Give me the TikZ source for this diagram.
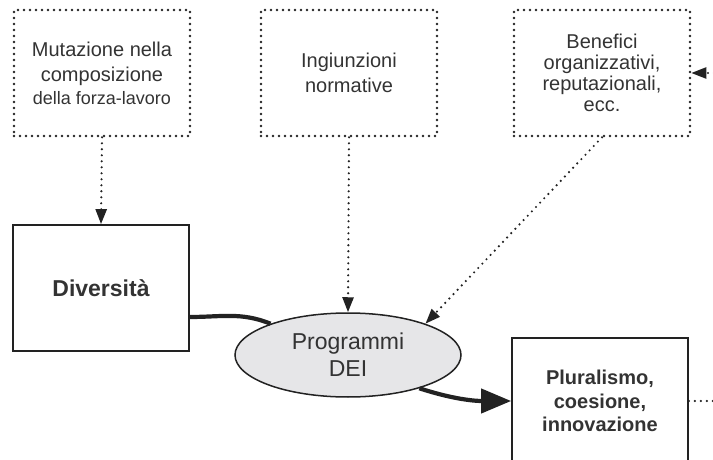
\documentclass[tikz,border=0pt]{standalone}
\usepackage{fontspec}
\setmainfont{Liberation Sans}
\usetikzlibrary{arrows.meta,shapes.geometric}
\definecolor{ink}{HTML}{222222}
\definecolor{txt}{HTML}{333333}
\definecolor{dei}{HTML}{E6E6E8}
\newcommand{\fs}[2]{\fontsize{#1}{#2}\selectfont}
\tikzset{
  dotbox/.style={draw=ink, line width=2.6pt, dash pattern=on 0pt off 6pt, line cap=round,
    minimum width=176pt, minimum height=126pt, inner sep=0pt, align=center, text=txt},
  solidbox/.style={draw=ink, line width=1.7pt, minimum width=176pt, minimum height=126pt,
    inner sep=0pt, align=center, text=txt},
  deinode/.style={ellipse, draw=ink, line width=1.5pt, fill=dei, minimum width=226pt,
    minimum height=84pt, inner sep=0pt, align=center, text=txt},
  dotarrow/.style={draw=ink, line width=2.4pt, dash pattern=on 0pt off 6pt, line cap=round,
    -{Triangle[length=15pt,width=11pt]}},
  dotline/.style={draw=ink, line width=2.4pt, dash pattern=on 0pt off 6pt, line cap=round},
  thick flow/.style={draw=ink, line width=4.2pt},
  thick arrow/.style={draw=ink, line width=4.2pt, -{Triangle[length=30pt,width=24pt]}}
}
\begin{document}
\begin{tikzpicture}[x=1pt,y=-1pt]
\useasboundingbox (0,0) rectangle (713,460);

% top row: driving factors
\node[dotbox, font=\fs{20}{25}] (mut) at (102,73)
  {Mutazione nella\\composizione\\[-2pt]\fs{18}{23}della forza-lavoro};
\node[dotbox, font=\fs{20}{25}] (ing) at (349,73) {Ingiunzioni\\normative};
\node[dotbox, font=\fs{20}{21}] (ben) at (602,73) {Benefici\\organizzativi,\\reputazionali,\\ecc.};

% core elements
\node[solidbox, font=\bfseries\fs{23}{26}] (div) at (101,288) {Diversità};
\node[deinode, font=\fs{23}{27}] (prog) at (348,355) {Programmi\\DEI};
\node[solidbox, font=\bfseries\fs{20}{23.5}] (plu) at (600,401) {Pluralismo,\\coesione,\\innovazione};

% loose ends on the right margin
\coordinate (rin) at (714,73);
\coordinate (rout) at (714,401);

% dotted influences
\draw[dotarrow] (mut.south) -- (div.north);
\draw[dotarrow] (ing.south) -- (prog.north);
\draw[dotarrow] (ben.south) -- (prog.22);
\draw[dotarrow] (rin) -- (ben.east);
\draw[dotline] (plu.east) -- (rout);

% main flow
\draw[thick flow] ([yshift=-29pt]div.east) to[out=0,in=158] (prog.158);
\draw[thick arrow] (prog.335) to[out=-18,in=180] (plu.west);
\end{tikzpicture}
\end{document}
